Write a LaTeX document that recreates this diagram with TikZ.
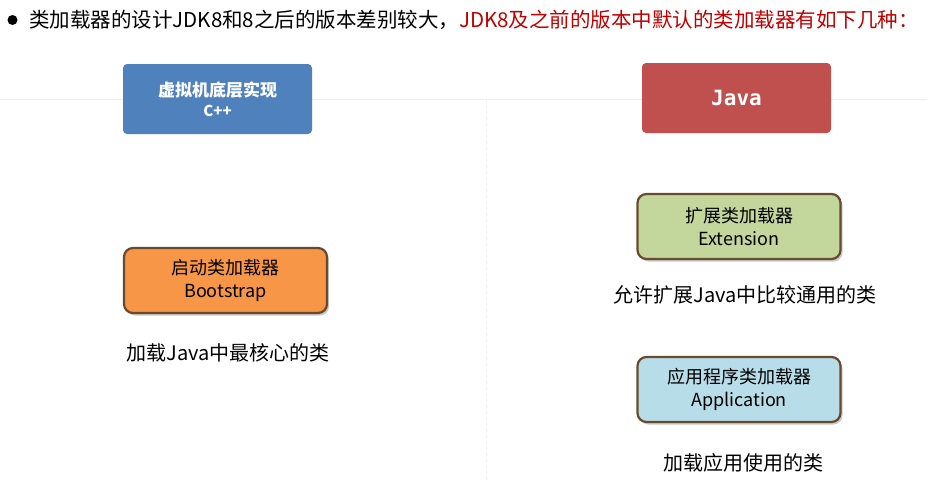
\documentclass[tikz,border=0pt]{standalone}
\usepackage{fontspec}
\setmainfont{Noto Sans CJK SC}
\newfontfamily\monob{DejaVu Sans Mono}
\usetikzlibrary{shadows}
\definecolor{vmblue}{HTML}{4F81BD}
\definecolor{javared}{HTML}{C0504D}
\definecolor{bootorange}{HTML}{F79646}
\definecolor{extgreen}{HTML}{C3D69B}
\definecolor{appblue}{HTML}{B7DDE8}
\definecolor{rimbrown}{HTML}{6A4A2C}
\definecolor{titlered}{HTML}{C00000}
\definecolor{guide}{HTML}{EEEEEE}
\begin{document}
\begin{tikzpicture}[x=1pt,y=-1pt,
  header/.style={rounded corners=4pt, draw=none, minimum width=189pt, minimum height=70pt,
    text=white, font=\bfseries\fontsize{17}{21}\selectfont, align=center, inner sep=0pt},
  loader/.style={rounded corners=9pt, draw=rimbrown, line width=2.2pt, minimum width=203pt,
    minimum height=65pt, align=center, inner sep=0pt, text=black,
    font=\fontsize{18}{23}\selectfont,
    drop shadow={shadow xshift=2pt, shadow yshift=-2.5pt, opacity=0.35, fill=black!60}},
  note/.style={font=\fontsize{20}{24}\selectfont, text=black, inner sep=0pt}]
  \useasboundingbox[fill=white] (0,0) rectangle (927,482);
  % faint guides
  \draw[guide, line width=0.8pt] (0,99) -- (927,99);
  \draw[guide, line width=0.8pt, dashed] (486,99) -- (486,482);
  % heading
  \fill (12.5,20) circle (5pt);
  \node[anchor=west, inner sep=0pt, font=\fontsize{20.5}{24}\selectfont] (title) at (29,20)
    {类加载器的设计JDK8和8之后的版本差别较大，\textcolor{titlered}{JDK8及之前的版本中默认的类加载器有如下几种：}};
  % column headers
  \node[header, fill=vmblue] (vm) at (217.5,99) {虚拟机底层实现\\[-1pt]{\fontsize{15}{18}\selectfont C++}};
  \node[header, fill=javared] (java) at (736.5,98) {\monob\bfseries\fontsize{21}{24}\selectfont Java};
  % loaders
  \node[loader, fill=bootorange] (boot) at (225.5,280.5) {启动类加载器\\Bootstrap};
  \node[loader, fill=extgreen] (ext) at (739,226.5) {扩展类加载器\\Extension};
  \node[loader, fill=appblue] (app) at (739,389.5) {应用程序类加载器\\Application};
  % descriptions
  \node[note] (bootnote) at (228,353) {加载Java中最核心的类};
  \node[note] (extnote) at (745,295) {允许扩展Java中比较通用的类};
  \node[note] (appnote) at (743,463) {加载应用使用的类};
\end{tikzpicture}
\end{document}
